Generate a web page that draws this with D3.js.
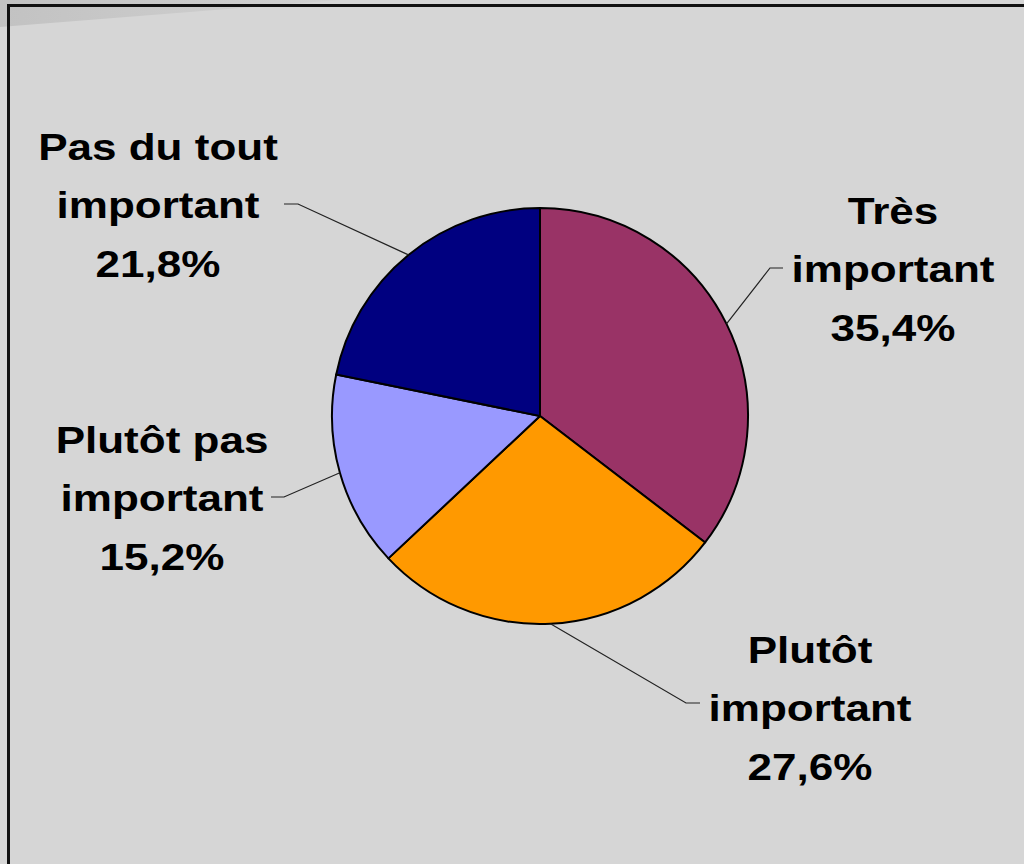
<!DOCTYPE html>
<html>
<head>
<meta charset="utf-8">
<script src="https://cdn.jsdelivr.net/npm/d3@7"></script>
<style>
  html, body { margin: 0; padding: 0; background: #d6d6d6; overflow: hidden; }
</style>
</head>
<body>
<script>
// chart data
const categories = ["Très important", "Plutôt important", "Plutôt pas important", "Pas du tout important"]
const values = [35.4, 27.6, 15.2, 21.8]
const colors = ["#993366", "#ff9900", "#9999ff", "#000080"]
// label lines as drawn (line breaks) and where each label block sits
const labelLines = [
  ["Très", "important", "35,4%"],
  ["Plutôt", "important", "27,6%"],
  ["Plutôt pas", "important", "15,2%"],
  ["Pas du tout", "important", "21,8%"],
]

const width = 1024
const height = 864
const cx = 540
const cy = 416
const radius = 208
const lineGap = 58.5

// label anchor (centre x, first baseline) and leader elbow / end
const labelPos = [
  { x: 893, y: 224, elbow: [770, 268], end: [783, 268] },
  { x: 810, y: 663, elbow: [686, 703], end: [700, 703] },
  { x: 162, y: 453, elbow: [284, 497], end: [271, 497] },
  { x: 158, y: 160, elbow: [298, 204], end: [284, 204] },
]

const svg = d3.select("body")
  .append("svg")
  .attr("width", width)
  .attr("height", height)

// background
svg.append("rect")
  .attr("width", width)
  .attr("height", height)
  .style("fill", "#d6d6d6")

// faint sheen in the top-left corner
const defs = svg.append("defs")
const grad = defs.append("linearGradient")
  .attr("id", "sheen")
  .attr("x1", 0).attr("x2", 1).attr("y1", 0).attr("y2", 0)
grad.append("stop").attr("offset", 0).attr("stop-color", "#c2c2c2")
grad.append("stop").attr("offset", 1).attr("stop-color", "#d2d2d2")
svg.append("path")
  .attr("d", "M0,0 L340,0 L0,27 Z")
  .style("fill", "url(#sheen)")

// frame (right and bottom run off the page)
svg.append("rect")
  .attr("x", 8.5)
  .attr("y", 5.5)
  .attr("width", 1200)
  .attr("height", 1200)
  .style("fill", "none")
  .style("stroke", "#111")
  .style("stroke-width", 3)

const data = categories.map((c, i) => ({ name: c, value: values[i], color: colors[i], lines: labelLines[i], pos: labelPos[i] }))

const pie = d3.pie()
  .sort(null)
  .value(d => d.value)

const arc = d3.arc()
  .innerRadius(0)
  .outerRadius(radius)

const arcs = pie(data)

const g = svg.append("g")
  .attr("transform", `translate(${cx},${cy})`)

g.selectAll("path")
  .data(arcs)
  .enter()
  .append("path")
  .attr("d", arc)
  .style("fill", d => d.data.color)
  .style("stroke", "#000")
  .style("stroke-width", 2)
  .style("stroke-linejoin", "round")

// leader lines: from slice mid-angle on the rim to the label
svg.append("g")
  .selectAll("polyline")
  .data(arcs)
  .enter()
  .append("polyline")
  .attr("points", d => {
    const a = (d.startAngle + d.endAngle) / 2
    const px = cx + radius * Math.sin(a)
    const py = cy - radius * Math.cos(a)
    const p = d.data.pos
    return [[px, py], p.elbow, p.end].map(q => q.join(",")).join(" ")
  })
  .style("fill", "none")
  .style("stroke", "#222")
  .style("stroke-width", 1.2)

// labels
const labels = svg.append("g")
  .selectAll("g")
  .data(data)
  .enter()
  .append("g")
  .attr("transform", d => `translate(${d.pos.x},${d.pos.y}) scale(1.19,1)`)

labels.selectAll("text")
  .data(d => d.lines)
  .enter()
  .append("text")
  .attr("x", 0)
  .attr("y", (t, i) => i * lineGap)
  .attr("text-anchor", "middle")
  .style("font-family", "'Liberation Sans', Arial, sans-serif")
  .style("font-weight", "bold")
  .style("font-size", "37px")
  .style("fill", "#000")
  .text(t => t)
</script>
</body>
</html>
